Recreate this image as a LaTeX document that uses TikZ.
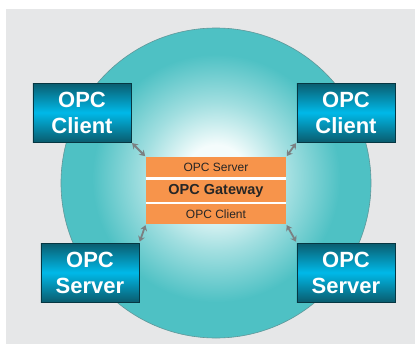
\documentclass[tikz,border=0pt]{standalone}
\usepackage{fontspec}
\setmainfont{Liberation Sans}
\usetikzlibrary{arrows.meta}
\definecolor{bggray}{HTML}{E6E7E8}
\definecolor{tealedge}{HTML}{4EC1C4}
\definecolor{centerc}{HTML}{F4FCFC}
\definecolor{boxdark}{HTML}{0A5C6E}
\definecolor{boxlight}{HTML}{00B9E8}
\definecolor{gworange}{HTML}{F7944B}
\definecolor{arrowgray}{HTML}{7B8082}
\definecolor{rimc}{HTML}{5F9799}
\pgfdeclareradialshading{globe}{\pgfpoint{0bp}{1.3bp}}{color(0bp)=(centerc); color(5bp)=(centerc); color(12bp)=(centerc!50!tealedge); color(20bp)=(tealedge); color(50bp)=(tealedge)}
\begin{document}
\begin{tikzpicture}[x=1bp,y=-1bp,
  opcbox/.style={draw=boxdark!60!black, line width=0.8bp, top color=boxdark, bottom color=boxdark, middle color=boxlight, minimum width=98bp, minimum height=59bp, inner sep=0pt, align=center, text=white, font=\fontsize{22bp}{26bp}\selectfont\bfseries},
  gwrow/.style={fill=gworange, minimum width=140bp, inner sep=0pt, text=black!85, font=\fontsize{12bp}{14bp}\selectfont},
  link/.style={draw=arrowgray, line width=1.8bp, shorten <=1bp, shorten >=1bp, {Stealth[length=5.5bp,width=7bp]}-{Stealth[length=5.5bp,width=7bp]}}
]
\useasboundingbox (0,0) rectangle (415,344);
\fill[white] (0,0) rectangle (415,344);
\fill[bggray] (6,9) rectangle (415,344);
\shade[shading=globe, draw=rimc, line width=0.6bp] (216,183) circle [radius=155bp];
\fill[white] (146,176) rectangle (286,205);
\node[gwrow, minimum height=20bp] (gs) at (216,167) {OPC Server};
\node[gwrow, minimum height=22bp, font=\fontsize{14.5bp}{16bp}\selectfont\bfseries] (gg) at (216,191) {OPC Gateway};
\node[gwrow, minimum height=20bp] (gc) at (216,214) {OPC Client};
\node[opcbox] (c1) at (82,112.5) {OPC\\Client};
\node[opcbox] (c2) at (346,112.5) {OPC\\Client};
\node[opcbox] (s1) at (90,272.5) {OPC\\Server};
\node[opcbox] (s2) at (346,272.5) {OPC\\Server};
\draw[link] (c1.south east) -- (gs.north west);
\draw[link] (c2.south west) -- (gs.north east);
\draw[link] (s1.north east) -- (gc.south west);
\draw[link] (s2.north west) -- (gc.south east);
\end{tikzpicture}
\end{document}
